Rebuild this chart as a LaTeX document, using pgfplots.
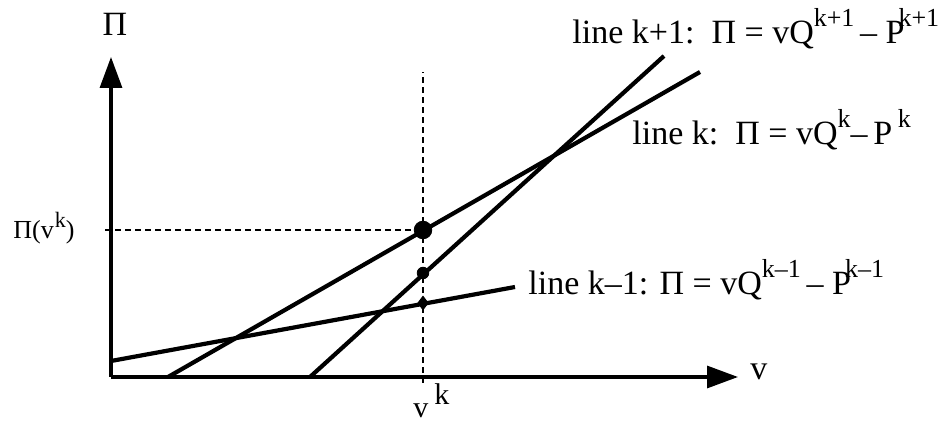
\documentclass[border=0pt]{standalone}
\usepackage{fontspec}
\setmainfont{Liberation Serif}
\usepackage{pgfplots}
\pgfplotsset{compat=1.18}
\usetikzlibrary{arrows.meta}
\newcommand\sups[1]{\raisebox{0.5em}{\fontsize{13}{13}\selectfont #1}}
\newcommand\lbl{\fontsize{17}{20}\selectfont}
\begin{document}
\begin{tikzpicture}
\begin{axis}[
 scale only axis, width=471.5pt, height=211.5pt,
 xmin=-111, xmax=832, ymin=-46, ymax=377,
 hide axis, clip=false,
]
\addplot[line width=1.6pt, -{Triangle[length=15.5pt,width=11pt]}] coordinates {(0,0) (627,0)};
\addplot[line width=1.6pt, -{Triangle[length=15.5pt,width=11pt]}] coordinates {(0,0) (0,320)};
\addplot[line width=1.3pt, dash pattern=on 2.8pt off 2.2pt] coordinates {(312,-6) (312,305)};
\addplot[line width=1.3pt, dash pattern=on 2.8pt off 2.2pt] coordinates {(-6,147) (312,147)};
\addplot[line width=2.1pt] coordinates {(0,16) (404,90)};
\addplot[line width=2.1pt] coordinates {(57,0) (589,305)};
\addplot[line width=2.1pt] coordinates {(199,0) (553,321)};
\addplot[only marks, mark=*, mark size=4.4pt] coordinates {(312,147)};
\addplot[only marks, mark=*, mark size=2.9pt] coordinates {(312,104)};
\addplot[only marks, mark=diamond*, mark size=3.4pt] coordinates {(312,74)};
\node[anchor=base west, inner sep=0] at (axis cs:461,333) {\lbl line k+1:\ \ Π = vQ\sups{k+1}\,–\ P\hspace{-3pt}\sups{k+1}};
\node[anchor=base west, inner sep=0] at (axis cs:521,232) {\lbl line k:\ \ Π = vQ\sups{k}–\,P\,\sups{k}};
\node[anchor=base west, inner sep=0] at (axis cs:417,82) {\lbl line k–1: Π = vQ\sups{k–1}\,–\ P\hspace{-3pt}\sups{k–1}};
\node[anchor=base, inner sep=0] at (axis cs:4,341) {\lbl Π};
\node[anchor=base west, inner sep=0] at (axis cs:-98,138) {\fontsize{13}{15}\selectfont Π(v\hspace{0.5pt}\raisebox{0.45em}{\fontsize{11}{11}\selectfont k})};
\node[anchor=base west, inner sep=0] at (axis cs:302,-41) {\fontsize{15}{17}\selectfont v\hspace{3pt}\raisebox{0.45em}{k}};
\node[anchor=base west, inner sep=0] at (axis cs:639,-3) {\lbl v};
\end{axis}
\pgfresetboundingbox
\path[use as bounding box] (current axis.south west) rectangle (current axis.north east);
\end{tikzpicture}
\end{document}
